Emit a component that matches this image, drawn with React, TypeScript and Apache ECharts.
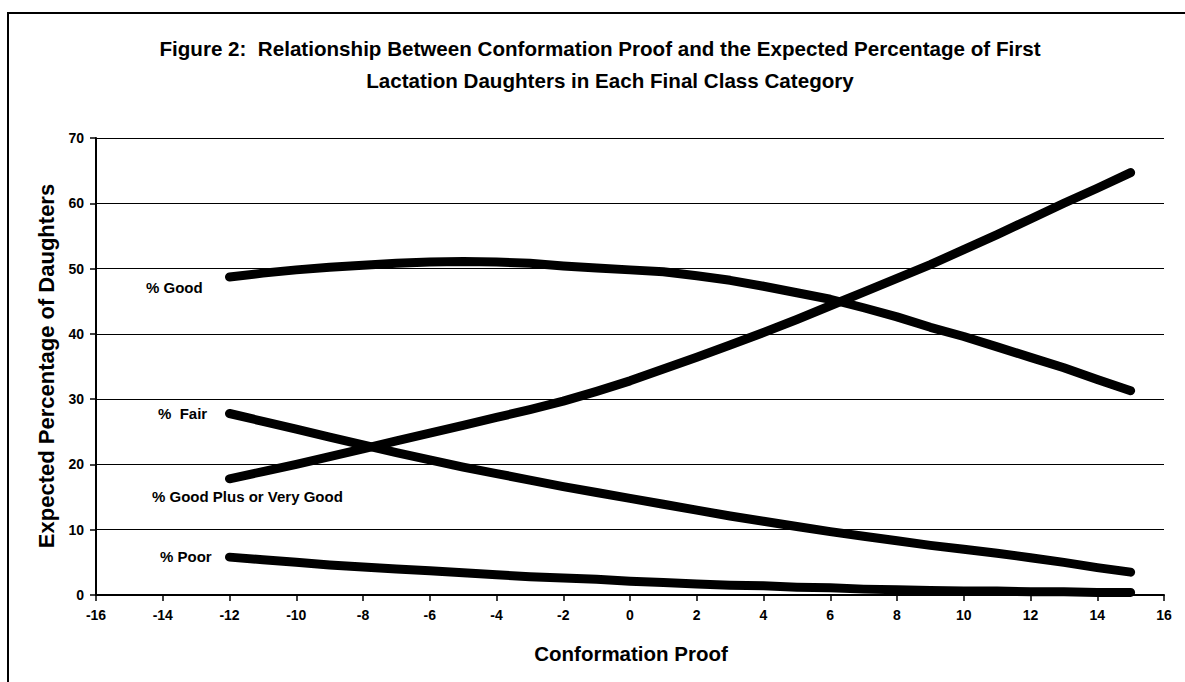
import React, { useEffect, useRef } from "react";
import * as echarts from "echarts";

const proof = [-12, -11, -10, -9, -8, -7, -6, -5, -4, -3, -2, -1, 0, 1, 2, 3, 4, 5, 6, 7, 8, 9, 10, 11, 12, 13, 14, 15];
const pctGood = [48.7, 49.3, 49.8, 50.2, 50.5, 50.8, 51.0, 51.1, 51.0, 50.8, 50.4, 50.1, 49.8, 49.5, 48.9, 48.2, 47.3, 46.3, 45.3, 44.0, 42.6, 41.0, 39.6, 38.0, 36.4, 34.8, 33.0, 31.3];
const pctGoodPlusVG = [17.8, 18.9, 20.0, 21.2, 22.4, 23.6, 24.8, 26.0, 27.2, 28.4, 29.7, 31.2, 32.8, 34.6, 36.4, 38.3, 40.2, 42.2, 44.3, 46.4, 48.5, 50.6, 52.9, 55.2, 57.6, 60.0, 62.3, 64.7];
const pctFair = [27.8, 26.6, 25.4, 24.2, 23.0, 21.8, 20.7, 19.6, 18.6, 17.6, 16.6, 15.7, 14.8, 13.9, 13.0, 12.1, 11.3, 10.5, 9.7, 9.0, 8.3, 7.6, 7.0, 6.4, 5.7, 5.0, 4.2, 3.5];
const pctPoor = [5.8, 5.4, 5.0, 4.6, 4.3, 4.0, 3.7, 3.4, 3.1, 2.8, 2.6, 2.4, 2.1, 1.9, 1.7, 1.5, 1.4, 1.2, 1.1, 0.9, 0.8, 0.7, 0.6, 0.6, 0.5, 0.5, 0.4, 0.4];

const seriesNames = ["% Good", "% Good Plus or Very Good", "% Fair", "% Poor"];
const seriesLabels = ["% Good", "% Good Plus or Very Good", "%  Fair", "% Poor"];
const titleLines = [
  "Figure 2:  Relationship Between Conformation Proof and the Expected Percentage of First",
  "Lactation Daughters in Each Final Class Category",
];
const xAxisName = "Conformation Proof";
const yAxisName = "Expected Percentage of Daughters";

const FONT = "'Liberation Sans', Arial, Helvetica, sans-serif";

export default function App() {
  const ref = useRef<HTMLDivElement>(null);
  useEffect(() => {
    if (!ref.current) return;
    const chart = echarts.init(ref.current, null, { renderer: "svg" });
    const pairs = (vals: number[]) => proof.map((x, i) => [x, vals[i]]);
    const lineSeries = (name: string, vals: number[]) => ({
      type: "line",
      name,
      data: pairs(vals),
      showSymbol: false,
      symbol: "none",
      smooth: false,
      lineStyle: { color: "#000", width: 9, cap: "round", join: "round" },
      z: 5,
    });
    const labelStyle = { fill: "#000", font: `bold 15px ${FONT}`, textVerticalAlign: "middle" };
    chart.setOption({
      animation: false,
      backgroundColor: "#fff",
      grid: { left: 96, right: 21, top: 138, bottom: 87, containLabel: false },
      xAxis: {
        type: "value",
        min: -16,
        max: 16,
        interval: 2,
        axisLine: { show: true, onZero: false, lineStyle: { color: "#000", width: 2 } },
        axisTick: { show: true, length: 6, lineStyle: { color: "#000", width: 1.5 } },
        axisLabel: { color: "#000", fontFamily: FONT, fontWeight: "bold", fontSize: 14, margin: 13 },
        splitLine: { show: false },
      },
      yAxis: {
        type: "value",
        min: 0,
        max: 70,
        interval: 10,
        axisLine: { show: true, onZero: false, lineStyle: { color: "#000", width: 2 } },
        axisTick: { show: true, length: 6, lineStyle: { color: "#000", width: 1.5 } },
        axisLabel: { color: "#000", fontFamily: FONT, fontWeight: "bold", fontSize: 14, margin: 12 },
        splitLine: { show: true, lineStyle: { color: "#000", width: 1 } },
      },
      series: [
        lineSeries(seriesNames[0], pctGood),
        lineSeries(seriesNames[1], pctGoodPlusVG),
        lineSeries(seriesNames[2], pctFair),
        lineSeries(seriesNames[3], pctPoor),
      ],
      graphic: [
        {
          type: "rect",
          shape: { x: 8, y: 13, width: 1300, height: 800 },
          style: { fill: "none", stroke: "#000", lineWidth: 2 },
          silent: true,
        },
        {
          type: "text",
          x: 600,
          y: 48,
          style: { text: titleLines[0], fill: "#000", font: `bold 20.6px ${FONT}`, textAlign: "center", textVerticalAlign: "middle" },
        },
        {
          type: "text",
          x: 610,
          y: 80,
          style: { text: titleLines[1], fill: "#000", font: `bold 20.6px ${FONT}`, textAlign: "center", textVerticalAlign: "middle" },
        },
        {
          type: "text",
          x: 631,
          y: 653,
          style: { text: xAxisName, fill: "#000", font: `bold 20.5px ${FONT}`, textAlign: "center", textVerticalAlign: "middle" },
        },
        {
          type: "text",
          x: 46,
          y: 366,
          rotation: Math.PI / 2,
          style: { text: yAxisName, fill: "#000", font: `bold 22px ${FONT}`, textAlign: "center", textVerticalAlign: "middle" },
        },
        { type: "text", x: 146, y: 287, style: { ...labelStyle, text: seriesLabels[0] } },
        { type: "text", x: 158, y: 413, style: { ...labelStyle, text: seriesLabels[2] } },
        { type: "text", x: 152, y: 496, style: { ...labelStyle, text: seriesLabels[1] } },
        { type: "text", x: 160, y: 556, style: { ...labelStyle, text: seriesLabels[3] } },
      ],
    });
    return () => chart.dispose();
  }, []);
  return (
    <div
      ref={ref}
      style={{ position: "absolute", left: 0, top: 0, width: 1185, height: 682 }}
    />
  );
}
